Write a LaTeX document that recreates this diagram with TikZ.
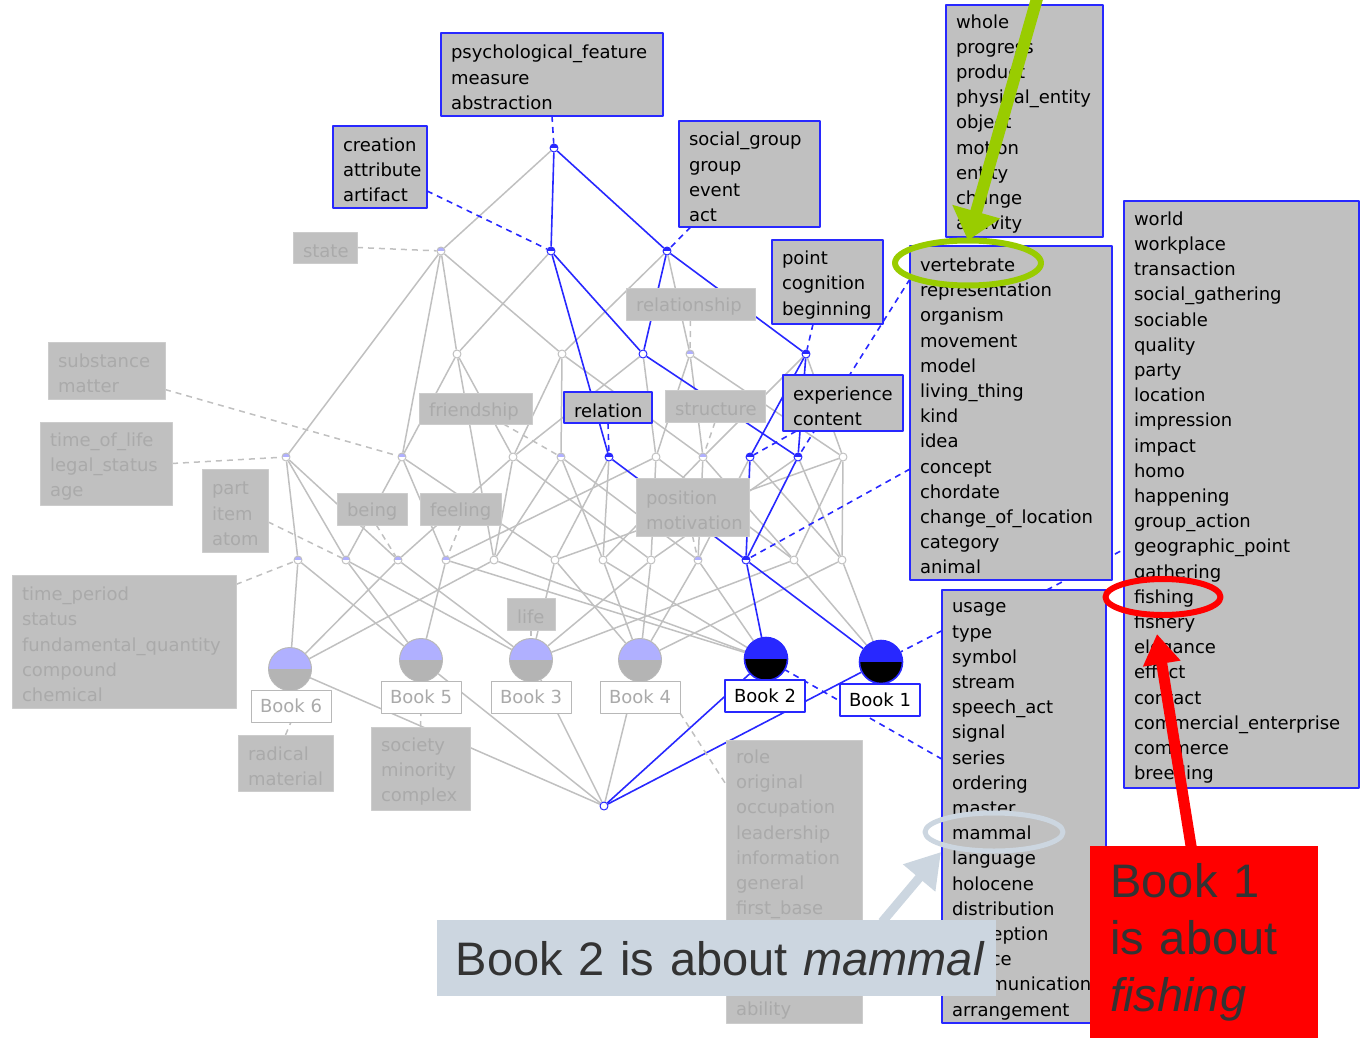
\documentclass[tikz,border=0pt]{standalone}
\usepackage{fontspec}
\setmainfont{DejaVu Sans}
\newfontfamily\annfont{Liberation Sans}
\usetikzlibrary{arrows.meta,shapes.geometric}
\hyphenpenalty=10000
\exhyphenpenalty=10000
\definecolor{edg}{RGB}{192,192,192}
\definecolor{lnk}{RGB}{40,40,255}
\definecolor{boxg}{RGB}{192,192,192}
\definecolor{dimtx}{RGB}{170,170,170}
\definecolor{dimln}{RGB}{204,204,204}
\definecolor{tint}{RGB}{176,176,255}
\definecolor{bookgr}{RGB}{180,180,180}
\definecolor{bookbd}{RGB}{184,184,184}
\definecolor{lime}{RGB}{153,204,0}
\definecolor{steel}{RGB}{204,214,224}
\definecolor{ink}{RGB}{51,51,51}
\newcommand{\bxf}{\fontsize{9}{12.6}\selectfont}
\pgfdeclarelayer{edges}
\pgfsetlayers{edges,main}
\tikzset{
  every picture/.style={line cap=round, line join=round},
  % Kanten
  gedge/.style={edg, line width=0.75pt},
  bedge/.style={lnk, line width=0.8pt},
  gdash/.style={edg, line width=0.75pt, dash pattern=on 3pt off 2.5pt},
  bdash/.style={lnk, line width=0.8pt, dash pattern=on 3pt off 2.5pt},
  % Begriffe
  halves/.style 2 args={path picture={
    \fill[#1] (path picture bounding box.north west) rectangle (path picture bounding box.east);
    \fill[#2] (path picture bounding box.west) rectangle (path picture bounding box.south east);}},
  pt/.style={circle, draw=edg, fill=white, line width=0.5pt, inner sep=0pt, minimum size=4pt},
  tpt/.style={pt, halves={tint}{white}},
  bpt/.style={pt, draw=lnk, halves={lnk}{white}},
  opt/.style={pt, draw=lnk},
  book/.style={circle, draw=bookbd, line width=0.5pt, inner sep=0pt, minimum size=21.5pt, halves={tint}{bookgr}},
  hbook/.style={book, draw=lnk, line width=0.8pt, halves={lnk}{black}},
  blbl/.style={draw=bookbd, fill=white, text=dimtx, anchor=north west, minimum width=40pt, minimum height=16pt, inner sep=0pt, outer sep=0pt, font=\bxf},
  hblbl/.style={blbl, draw=lnk, line width=0.8pt, text=black},
  % Beschriftungen
  lbl/.style={draw=lnk, line width=0.8pt, fill=boxg, text=black, anchor=north west, align=left,
    inner xsep=5pt, inner ysep=0pt, outer sep=0pt, font=\bxf, execute at begin node={\rule{0pt}{9.8pt}}},
  dim/.style={lbl, draw=dimln, line width=0.5pt, text=dimtx},
  % Hervorhebungen
  ring/.style={ellipse, draw=#1, line width=3pt, inner sep=0pt, outer sep=0pt},
  fat/.style={#1, line width=6pt, line cap=butt, -{Triangle[length=15pt,width=24pt]}},
}
\begin{document}
\begin{tikzpicture}[x=0.5pt, y=-0.5pt]
  \useasboundingbox (0,0) rectangle (1365,1038);
  % Verband
  \node[bpt] (top) at (554,148) {};
  \foreach \n/\x/\s in {a1/441/tpt, a2/551/bpt, a3/667/bpt}
    \node[\s] (\n) at (\x,251) {};
  \foreach \n/\x/\s in {b1/457/pt, b2/562/pt, b3/643/opt, b4/690/tpt, b5/806/bpt}
    \node[\s] (\n) at (\x,354) {};
  \foreach \n/\x/\s in {c1/286/tpt, c2/402/tpt, c3/513/pt, c4/561/tpt, c5/609/bpt,
      c6/656/pt, c7/703/tpt, c8/750/bpt, c9/798/bpt, c10/843/pt}
    \node[\s] (\n) at (\x,457) {};
  \foreach \n/\x/\s in {d1/298/tpt, d2/346/tpt, d3/398/tpt, d4/446/tpt, d5/494/pt, d6/555/pt,
      d7/603/pt, d8/651/pt, d9/698/tpt, d10/746/bpt, d11/794/pt, d12/842/pt}
    \node[\s] (\n) at (\x,560) {};
  \node[opt] (bot) at (604,806) {};
  % Buecher
  \foreach \n/\x/\y/\s in {bk6/290/669/book, bk5/421/660/book, bk3/531/660/book,
      bk4/640/660/book, bk2/766/659/hbook, bk1/881/662/hbook}
    \node[\s] (\n) at (\x,\y) {};
  \foreach \n/\x/\y/\s/\t in {l6/251/690/blbl/6, l5/381/681/blbl/5, l3/491/681/blbl/3,
      l4/600/681/blbl/4, l2/725/680/hblbl/2, l1/840/684/hblbl/1}
    \node[\s] (\n) at (\x,\y) {Book \t};
  % Begriffsumfaenge, aktiv
  \node[lbl, text width=101pt, minimum height=41.5pt] (psych) at (441,33)
    {psychological\_feature\\measure\\abstraction};
  \node[lbl, text width=37pt, minimum height=41pt] (creation) at (333,126)
    {creation\\attribute\\artifact};
  \node[lbl, text width=60.5pt, minimum height=53pt] (social) at (679,121)
    {social\_group\\group\\event\\act};
  \node[lbl, text width=45.5pt, minimum height=42pt] (point) at (772,240)
    {point\\cognition\\beginning};
  \node[lbl, text width=34pt, minimum height=15.5pt] (relation) at (564,392) {relation};
  \node[lbl, text width=50pt, minimum height=28pt] (experience) at (783,375)
    {experience\\content};
  \node[lbl, text width=68.5pt, minimum height=116pt] (whole) at (946,5)
    {whole\\progress\\product\\physical\_entity\\object\\motion\\entity\\change\\activity};
  \node[lbl, text width=91pt, minimum height=167pt] (vert) at (910,246)
    {vertebrate\\representation\\organism\\movement\\model\\living\_thing\\kind\\idea\\concept\\chordate\\change\_of\_location\\category\\animal};
  \node[lbl, text width=72pt, minimum height=216.5pt] (usage) at (942,590)
    {usage\\type\\symbol\\stream\\speech\_act\\signal\\series\\ordering\\master\\mammal\\language\\holocene\\distribution\\perception\\source\\communication\\arrangement};
  \node[lbl, text width=107.5pt, minimum height=293.5pt] (world) at (1124,201)
    {world\\workplace\\transaction\\social\_gathering\\sociable\\quality\\party\\location\\impression\\impact\\homo\\happening\\group\_action\\geographic\_point\\gathering\\fishing\\fishery\\elegance\\effect\\contact\\commercial\_enterprise\\commerce\\breeding};
  % Begriffsumfaenge, blass
  \node[dim, text width=22pt, minimum height=15.5pt] (state) at (293,232) {state};
  \node[dim, text width=48.5pt, minimum height=28.5pt] (substance) at (48,342) {substance\\matter};
  \node[dim, text width=56pt, minimum height=41.5pt] (tol) at (40,422) {time\_of\_life\\legal\_status\\age};
  \node[dim, text width=23pt, minimum height=41.5pt] (part) at (202,469) {part\\item\\atom};
  \node[dim, text width=102pt, minimum height=66.5pt] (tper) at (12,575)
    {time\_period\\status\\fundamental\_quantity\\compound\\chemical};
  \node[dim, text width=46.5pt, minimum height=15.5pt] (friend) at (419,393) {friendship};
  \node[dim, text width=25pt, minimum height=16pt] (being) at (337,493) {being};
  \node[dim, text width=30.5pt, minimum height=16pt] (feeling) at (420,493) {feeling};
  \node[dim, text width=54.5pt, minimum height=16pt] (relship) at (626,288) {relationship};
  \node[dim, text width=40pt, minimum height=16pt] (struct) at (665,390) {structure};
  \node[dim, text width=46.5pt, minimum height=29pt] (pos) at (636,478) {position\\motivation};
  \node[dim, text width=14pt, minimum height=16pt] (life) at (507,598) {life};
  \node[dim, text width=37.5pt, minimum height=28pt] (rad) at (238,735) {radical\\material};
  \node[dim, text width=39.5pt, minimum height=41.5pt] (soc) at (371,727) {society\\minority\\complex};
  \node[dim, text width=58pt, minimum height=141.5pt] (role) at (726,740)
    {role\\original\\occupation\\leadership\\information\\general\\first\_base\\\mbox{}\\\mbox{}\\\mbox{}\\ability};
  % Kanten
  \begin{pgfonlayer}{edges}
    \foreach \u/\v in {top/a1, a1/b1, a1/b2, a1/c1, a1/c2, a2/b1, a3/b2, a3/b4,
        b1/c2, b1/c3, b1/d5, b2/c3, b2/c4, b2/c7, b3/c3, b3/c6, b4/c6, b4/c7, b4/c10,
        b5/c7, b5/c10, c1/d1, c1/d2, c1/d3, c2/d2, c2/d4, c2/d6, c3/d3, c3/d5, c3/d8,
        c4/d5, c4/d7, c4/d9, c5/d6, c5/d7, c6/d4, c6/d8, c6/d11, c7/d7, c7/d9, c7/d11,
        c8/d9, c8/d12, c9/d8, c9/d12, c10/d6, c10/d11, c10/d12,
        d1/bk6, d1/bk5, d2/bk5, d2/bk3, d3/bk6, d3/bk3, d4/bk5, d4/bk2, d5/bk6, d5/bk2,
        d6/bk3, d6/bk4, d7/bk4, d7/bk2, d8/bk3, d8/bk4, d9/bk4, d9/bk2, d11/bk3, d11/bk1,
        d12/bk4, d12/bk1, bk6/bot, bk5/bot, bk3/bot, bk4/bot}
      \draw[gedge] (\u) -- (\v);
    \foreach \u/\v in {top/a2, top/a3, a2/b3, a2/c5, a3/b3, a3/b5, b3/c9, b5/c8, b5/c9,
        c5/d10, c8/d10, c9/d10, d10/bk2, d10/bk1, bk2/bot, bk1/bot}
      \draw[bedge] (\u) -- (\v);
    % Zuordnung der Beschriftungen
    \draw[bdash] (psych.south) -- (top);
    \draw[bdash] (creation.-27) -- (a2);
    \draw[bdash] (social.-138) -- (a3);
    \draw[bdash] (point.-109) -- (b5);
    \draw[bdash] (relation.south) -- (c5);
    \draw[bdash] (experience.-149) -- (c8);
    \draw[bdash] (vert.127) -- (c9);
    \draw[bdash] (vert.-151) -- (d10);
    \draw[bdash] (usage.115) -- (bk1);
    \draw[bdash] (usage.150) -- (bk2);
    \draw[bdash] (usage.84) -- (world.-155);
    \draw[gdash] (state.east) -- (a1);
    \draw[gdash] (substance.-18) -- (c2);
    \draw[gdash] (tol.east) -- (c1);
    \draw[gdash] (part.-19) -- (d2);
    \draw[gdash] (tper.27) -- (d1);
    \draw[gdash] (friend.-29) -- (c4);
    \draw[gdash] (relship.south) -- (b4);
    \draw[gdash] (struct.south) -- (c7);
    \draw[gdash] (being.-75) -- (d3);
    \draw[gdash] (feeling.south) -- (d4);
    \draw[gdash] (pos.south) -- (d9);
    \draw[gdash] (life.south) -- (bk3);
    \draw[gdash] (rad.north) -- (l6.south);
    \draw[gdash] (soc.north) -- (l5.south);
    \draw[gdash] (l4.south east) -- (role.125);
  \end{pgfonlayer}
  % Hervorhebungen
  \node[ring=lime, minimum width=73pt, minimum height=22.5pt] (vring) at (968,263) {};
  \node[ring=steel, line width=2.5pt, minimum width=69pt, minimum height=19pt] (mring) at (994,832) {};
  \node[ring=red, minimum width=57.5pt, minimum height=18pt] (fring) at (1163,597) {};
  \coordinate (gtail) at (1040,-12);
  \draw[fat=lime] (gtail) -- (vring.north);
  \coordinate (stail) at (882,922);
  \coordinate (stip) at (941,852);
  \draw[fat=steel, line width=4.5pt, -{Triangle[length=17pt,width=20pt]}] (stail) -- (stip);
  \node[anchor=north west, fill=steel, text=ink, text width=261pt, inner xsep=9.25pt,
    inner ysep=0pt, minimum height=38pt, align=left,
    font=\annfont\fontsize{23.5}{28}\selectfont] (about2) at (437,920)
    {\mbox{Book 2 is about \textit{mammal}}};
  \coordinate (rtail) at (1192,852);
  \coordinate (rtip) at (1157,634);
  \draw[fat=red, line width=5.5pt, -{Triangle[length=15pt,width=18pt]}] (rtail) -- (rtip);
  \node[anchor=north west, fill=red, text=ink, text width=94pt, inner xsep=10pt,
    inner ysep=0pt, minimum height=96pt, align=left,
    font=\annfont\fontsize{23.5}{28.5}\selectfont] (about1) at (1090,846)
    {Book 1\\is about\\\textit{fishing}};
\end{tikzpicture}
\end{document}
